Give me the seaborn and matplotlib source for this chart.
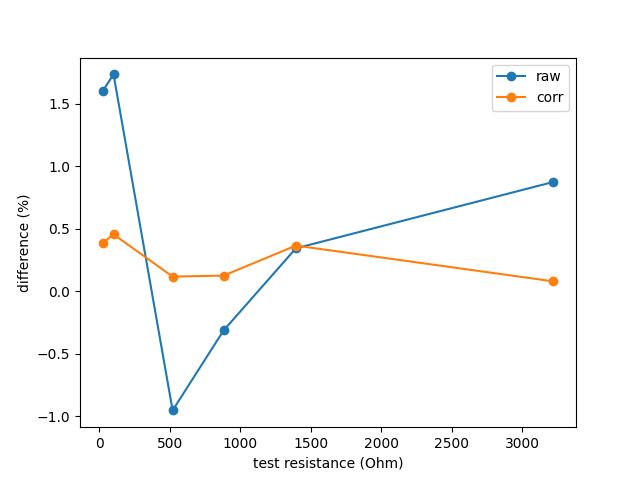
import matplotlib
matplotlib.use("Agg")
import matplotlib.pyplot as plt
import seaborn as sns
import pandas as pd

resistance = [22, 100, 519, 881, 1393, 3220]
raw = [1.60, 1.735, -0.952, -0.312, 0.344, 0.875]
corr = [0.384, 0.456, 0.118, 0.126, 0.366, 0.080]

df = pd.DataFrame({"r": resistance, "raw": raw, "corr": corr})

fig, ax = plt.subplots(figsize=(6.4, 4.8), dpi=100)
colors = ["#1f77b4", "#ff7f0e"]
for name, c in zip(["raw", "corr"], colors):
    sns.lineplot(data=df, x="r", y=name, ax=ax, color=c, marker="o",
                 markersize=6, markeredgecolor=c, markeredgewidth=1,
                 linewidth=1.5, sort=False, label=name)
ax.set_xlabel("test resistance (Ohm)")
ax.set_ylabel("difference (%)")
ax.legend(loc="upper right")
fig.savefig("out.png", dpi=100)
